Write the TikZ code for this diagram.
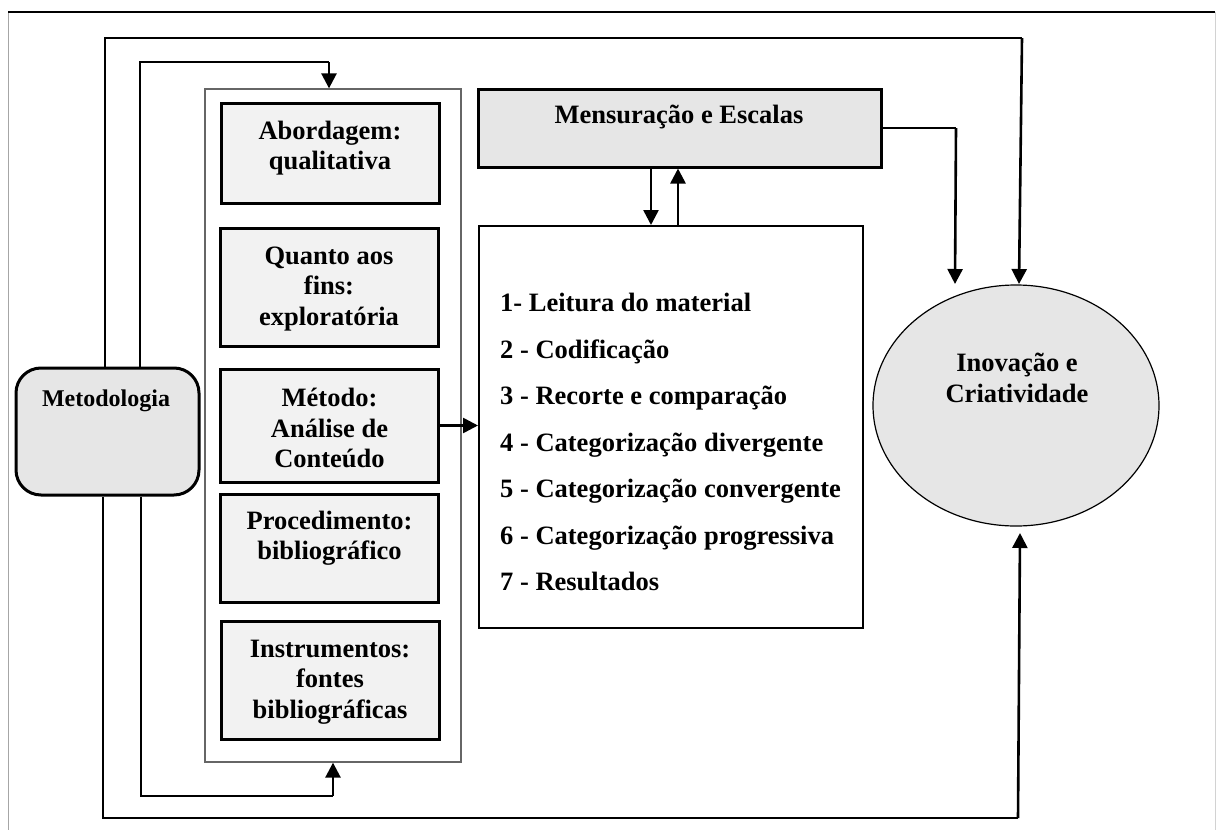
\documentclass[tikz,border=0pt]{standalone}
\usepackage{fontspec}
\setmainfont{Liberation Serif}
\usetikzlibrary{arrows.meta,shapes.geometric}
\definecolor{lightfill}{HTML}{F2F2F2}
\definecolor{midfill}{HTML}{E6E6E6}
\begin{document}
\begin{tikzpicture}[x=1pt,y=-1pt,
  txt/.style={font=\fontsize{26.5}{30.5}\selectfont\bfseries, align=center, inner sep=0pt},
  listtxt/.style={font=\fontsize{26.5}{46.5}\selectfont\bfseries, align=left, inner sep=0pt, anchor=west},
  colbox/.style={draw=black, line width=3pt, fill=lightfill, inner sep=0pt, minimum width=218pt},
  thinline/.style={line width=1.5pt},
  arrowline/.style={line width=2.6pt, -{Triangle[length=15pt,width=15pt]}}
]
\useasboundingbox (0,0) rectangle (1216,830);
% outer frame
\draw[line width=1pt, gray!70] (8,830) -- (8,12);
\draw[line width=1pt, gray!35] (1215,12) -- (1215,830);
\draw[line width=1.3pt, black] (8,12) -- (1215,12);

% column frame
\node[draw=gray!80!black, line width=1.3pt, fill=white, minimum width=256pt, minimum height=673pt, inner sep=0pt] (col) at (333,425.5) {};
% column boxes
\node[colbox, minimum height=100pt] (abord) at (330,153) {};
\node[colbox, minimum height=118pt] (quanto) at (329,287) {};
\node[colbox, minimum height=113pt] (metodo) at (329.5,425.5) {};
\node[colbox, minimum height=108pt] (proced) at (329.5,548) {};
\node[colbox, minimum height=118pt] (instr) at (330,680) {};
\node[txt] (abordT) at (330,148) {Abordagem:\\qualitativa};
\node[txt] (quantoT) at (329,289) {Quanto aos\\fins:\\exploratória};
\node[txt] (metodoT) at (329.5,428) {Método:\\Análise de\\Conteúdo};
\node[txt] (procedT) at (329.5,538) {Procedimento:\\bibliográfico};
\node[txt] (instrT) at (330,682) {Instrumentos:\\fontes\\bibliográficas};

% Mensuracao
\node[draw=black, line width=3pt, fill=midfill, minimum width=403pt, minimum height=78pt, inner sep=0pt] (mensur) at (679.5,128) {};
\node[txt] (mensurT) at (679,117) {Mensuração e Escalas};

% list box
\node[draw=black, line width=2pt, fill=white, minimum width=384pt, minimum height=402pt, inner sep=0pt] (lista) at (671,427) {};
\node[listtxt] (listaT) at (500,442) {1- Leitura do material\\2 - Codificação\\3 - Recorte e comparação\\4 - Categorização divergente\\5 - Categorização convergente\\6 - Categorização progressiva\\7 - Resultados};

% Metodologia
\node[draw=black, line width=3pt, fill=midfill, rounded corners=25pt, minimum width=183pt, minimum height=127pt, inner sep=0pt] (meto) at (107.5,431.5) {};
\node[txt, font=\fontsize{24}{28}\selectfont\bfseries] (metoT) at (106,401) {Metodologia};

% Inovacao
\node[ellipse, draw=black, line width=1.2pt, fill=midfill, minimum width=286pt, minimum height=241pt, inner sep=0pt] (inov) at (1016,405.5) {};
\node[txt] (inovT) at (1017,378) {Inovação e\\Criatividade};

% connectors
\coordinate (otl) at (105,38);
\coordinate (otr) at (1022,38);
\coordinate (otend) at (1019,284);
\draw[thinline] (meto.north -| otl) -- (otl) -- (otr);
\draw[arrowline] (otr) -- (otend);

\coordinate (itl) at (140,62);
\coordinate (itr) at (329,62);
\draw[thinline] (meto.north -| itl) -- (itl) -- (itr);
\draw[arrowline] (itr) -- (itr |- col.north);

\coordinate (ibl) at (141,796);
\coordinate (ibr) at (333,796);
\draw[thinline] (meto.south -| ibl) -- (ibl) -- (ibr);
\draw[arrowline] (ibr) -- (ibr |- col.south);

\coordinate (obl) at (103,818);
\coordinate (obr) at (1018,818);
\coordinate (obend) at (1020,533);
\draw[thinline] (meto.south -| obl) -- (obl) -- (obr);
\draw[arrowline] (obr) -- (obend);

\coordinate (mr) at (956,128);
\coordinate (mrend) at (955,284);
\draw[thinline] (mensur.east) -- (mr);
\draw[arrowline] (mr) -- (mrend);

\coordinate (mdx) at (651,0);
\coordinate (mux) at (678,0);
\draw[arrowline] (mensur.south -| mdx) -- (lista.north -| mdx);
\draw[arrowline] (lista.north -| mux) -- (mensur.south -| mux);

\draw[arrowline] (metodo.east) -- (metodo.east -| lista.west);
\end{tikzpicture}
\end{document}
